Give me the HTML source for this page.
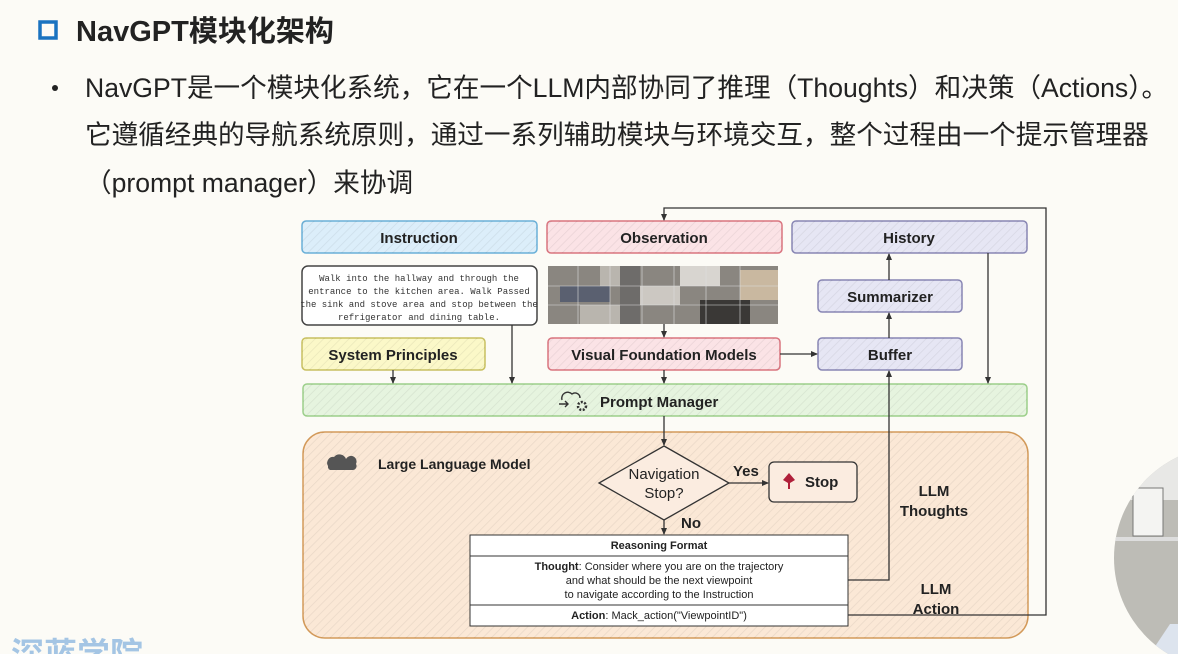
<!DOCTYPE html>
<html><head><meta charset="utf-8"><style>
html,body{margin:0;padding:0;width:1178px;height:654px;overflow:hidden;background:#fcfbf6;}
svg{display:block}
.t{font-family:"Liberation Sans","Noto Sans CJK SC",sans-serif;}
</style></head><body>
<svg width="1178" height="654" viewBox="0 0 1178 654" xmlns="http://www.w3.org/2000/svg" class="t">
<defs>
<pattern id="h" width="6" height="6" patternUnits="userSpaceOnUse" patternTransform="rotate(45)">
<line x1="0" y1="0" x2="0" y2="6" stroke="#000" stroke-opacity="0.07" stroke-width="1.5"/></pattern>
<marker id="a" markerWidth="8" markerHeight="8" refX="6" refY="4" orient="auto" markerUnits="userSpaceOnUse">
<path d="M0,1 L7,4 L0,7 Z" fill="#333"/></marker>
<clipPath id="cc"><circle cx="1226" cy="558" r="112"/></clipPath>
</defs>
<!-- title -->
<rect x="40" y="22" width="16" height="16" fill="none" stroke="#1a73c0" stroke-width="3.5"/>
<text x="76" y="41" font-size="29" font-weight="bold" fill="#222">NavGPT模块化架构</text>
<circle cx="55" cy="88" r="3" fill="#222"/>
<text x="85" y="97" font-size="26.6" fill="#222">NavGPT是一个模块化系统，它在一个LLM内部协同了推理（Thoughts）和决策（Actions）。</text>
<text x="85" y="144" font-size="26.6" fill="#222">它遵循经典的导航系统原则，通过一系列辅助模块与环境交互，整个过程由一个提示管理器</text>
<text x="85" y="192" font-size="26.6" fill="#222">（prompt manager）来协调</text>

<!-- top boxes -->
<g stroke-width="1.5">
<rect x="302" y="221" width="235" height="32" rx="4" fill="#dceefa" stroke="#6ab0d8"/>
<rect x="302" y="221" width="235" height="32" rx="4" fill="url(#h)"/>
<rect x="547" y="221" width="235" height="32" rx="4" fill="#fbe3e6" stroke="#d9747f"/>
<rect x="547" y="221" width="235" height="32" rx="4" fill="url(#h)"/>
<rect x="792" y="221" width="235" height="32" rx="4" fill="#e6e6f4" stroke="#8886b4"/>
<rect x="792" y="221" width="235" height="32" rx="4" fill="url(#h)"/>
<rect x="302" y="266" width="235" height="59" rx="6" fill="#fff" stroke="#444"/>
<rect x="302" y="338" width="183" height="32" rx="4" fill="#fbf8c8" stroke="#c8c060"/>
<rect x="302" y="338" width="183" height="32" rx="4" fill="url(#h)"/>
<rect x="548" y="338" width="232" height="32" rx="4" fill="#fbe3e6" stroke="#d9747f"/>
<rect x="548" y="338" width="232" height="32" rx="4" fill="url(#h)"/>
<rect x="818" y="280" width="144" height="32" rx="4" fill="#e6e6f4" stroke="#8886b4"/>
<rect x="818" y="280" width="144" height="32" rx="4" fill="url(#h)"/>
<rect x="818" y="338" width="144" height="32" rx="4" fill="#e6e6f4" stroke="#8886b4"/>
<rect x="818" y="338" width="144" height="32" rx="4" fill="url(#h)"/>
<rect x="303" y="384" width="724" height="32" rx="4" fill="#e6f4df" stroke="#9ccf8a"/>
<rect x="303" y="384" width="724" height="32" rx="4" fill="url(#h)"/>
<rect x="303" y="432" width="725" height="206" rx="22" fill="#fbe8d6" stroke="#d39a5a"/>
<rect x="303" y="432" width="725" height="206" rx="22" fill="url(#h)"/>
</g>
<!-- image grid -->
<rect x="548" y="266" width="230" height="58" fill="#8a8680"/>
<g fill="#b9b5ae">
<rect x="600" y="266" width="40" height="20"/><rect x="680" y="266" width="40" height="20" fill="#d8d5d0"/>
<rect x="560" y="286" width="50" height="16" fill="#5a6070"/><rect x="640" y="286" width="40" height="19" fill="#ccc8c2"/>
<rect x="700" y="300" width="50" height="24" fill="#3a3836"/><rect x="580" y="305" width="40" height="19"/>
<rect x="740" y="270" width="38" height="30" fill="#c9b8a0"/><rect x="620" y="266" width="20" height="58" fill="#6e6c6a"/>
</g>
<g stroke="#ddd" stroke-width="0.6">
<line x1="548" y1="286" x2="778" y2="286"/><line x1="548" y1="305" x2="778" y2="305"/>
<line x1="578" y1="266" x2="578" y2="324"/><line x1="610" y1="266" x2="610" y2="324"/><line x1="642" y1="266" x2="642" y2="324"/><line x1="674" y1="266" x2="674" y2="324"/><line x1="706" y1="266" x2="706" y2="324"/><line x1="740" y1="266" x2="740" y2="324"/>
</g>

<g font-weight="bold" font-size="15" fill="#222" text-anchor="middle">
<text x="419" y="243">Instruction</text>
<text x="664" y="243">Observation</text>
<text x="909" y="243">History</text>
<text x="393" y="360">System Principles</text>
<text x="664" y="360">Visual Foundation Models</text>
<text x="890" y="302">Summarizer</text>
<text x="890" y="360">Buffer</text>
</g>
<text x="600" y="407" font-weight="bold" font-size="15" fill="#222">Prompt Manager</text>
<g font-family="Liberation Mono,monospace" font-size="9" fill="#333" text-anchor="middle">
<text x="419" y="281">Walk into the hallway and through the</text>
<text x="419" y="294">entrance to the kitchen area. Walk Passed</text>
<text x="419" y="307">the sink and stove area and stop between the</text>
<text x="419" y="320">refrigerator and dining table.</text>
</g>
<!-- PM icon -->
<path d="M562,400 a6,6 0 0 1 10,-6 a5,5 0 0 1 8,4" fill="none" stroke="#333" stroke-width="1.4"/>
<path d="M559,404 h9 m-3,-3 l3,3 l-3,3" fill="none" stroke="#333" stroke-width="1.4"/>
<circle cx="582" cy="406" r="4" fill="none" stroke="#333" stroke-width="2.5" stroke-dasharray="2 1.5"/>

<!-- connectors -->
<g stroke="#333" stroke-width="1.3" fill="none" marker-end="url(#a)">
<path d="M393,370 V383"/>
<path d="M512,325 V383"/>
<path d="M664,324 V337"/>
<path d="M664,370 V383"/>
<path d="M780,354 H817"/>
<path d="M889,338 V313"/>
<path d="M889,280 V254"/>
<path d="M988,253 V383"/>
<path d="M664,416 V445"/>
<path d="M664,520 V534"/>
<path d="M729,483 H768"/>
<path d="M848,580 H889 V371"/>
<path d="M848,615 H1046 V208 H664 V220"/>
</g>

<!-- LLM -->
<path d="M328,466 a6,6 0 0 1 6,-9 a7,7 0 0 1 12,2 a5,5 0 0 1 10,5 a4,4 0 0 1 -4,6 h-22 a4,4 0 0 1 -2,-4z" fill="#555"/>
<text x="378" y="469" font-size="14" font-weight="bold" fill="#222">Large Language Model</text>
<polygon points="664,446 729,483 664,520 599,483" fill="#fbece0" stroke="#333" stroke-width="1.3"/>
<text x="664" y="479" font-size="15" text-anchor="middle" fill="#222">Navigation</text>
<text x="664" y="498" font-size="15" text-anchor="middle" fill="#222">Stop?</text>
<text x="733" y="476" font-size="15" font-weight="bold" fill="#222">Yes</text>
<text x="681" y="528" font-size="15" font-weight="bold" fill="#222">No</text>
<rect x="769" y="462" width="88" height="40" rx="5" fill="#fbece0" stroke="#333" stroke-width="1.3"/>
<path d="M783,480 l6,-7 l6,7 l-5,3 v6 h-2 v-6z" fill="#b0203a"/>
<text x="805" y="487" font-size="15" font-weight="bold" fill="#222">Stop</text>
<g font-size="15" font-weight="bold" fill="#222" text-anchor="middle">
<text x="934" y="496">LLM</text><text x="934" y="516">Thoughts</text>
<text x="936" y="594">LLM</text><text x="936" y="614">Action</text>
</g>
<rect x="470" y="535" width="378" height="91" fill="#fff" stroke="#333" stroke-width="1"/>
<line x1="470" y1="556" x2="848" y2="556" stroke="#333"/>
<line x1="470" y1="605" x2="848" y2="605" stroke="#333"/>
<g font-size="11" fill="#222" text-anchor="middle">
<text x="659" y="549" font-weight="bold">Reasoning Format</text>
<text x="659" y="570"><tspan font-weight="bold">Thought</tspan>: Consider where you are on the trajectory</text>
<text x="659" y="584">and what should be the next viewpoint</text>
<text x="659" y="598">to navigate according to the Instruction</text>
<text x="659" y="619"><tspan font-weight="bold">Action</tspan>: Mack_action("ViewpointID")</text>
</g>

<!-- watermark -->
<text x="11" y="666" font-size="33" font-weight="bold" fill="#8fb8e0" opacity="0.8">深蓝学院</text>
<!-- webcam -->
<g clip-path="url(#cc)">
<rect x="1110" y="440" width="70" height="220" fill="#bdbcb6"/>
<rect x="1110" y="440" width="70" height="60" fill="#e8e8e6"/>
<rect x="1133" y="488" width="30" height="48" fill="#f4f4f2" stroke="#777"/>
<rect x="1110" y="537" width="70" height="4" fill="#ddd"/>
<path d="M1150,654 l20,-30 l10,0 v30z" fill="#dde4ee"/>
</g>
</svg>
</body></html>
